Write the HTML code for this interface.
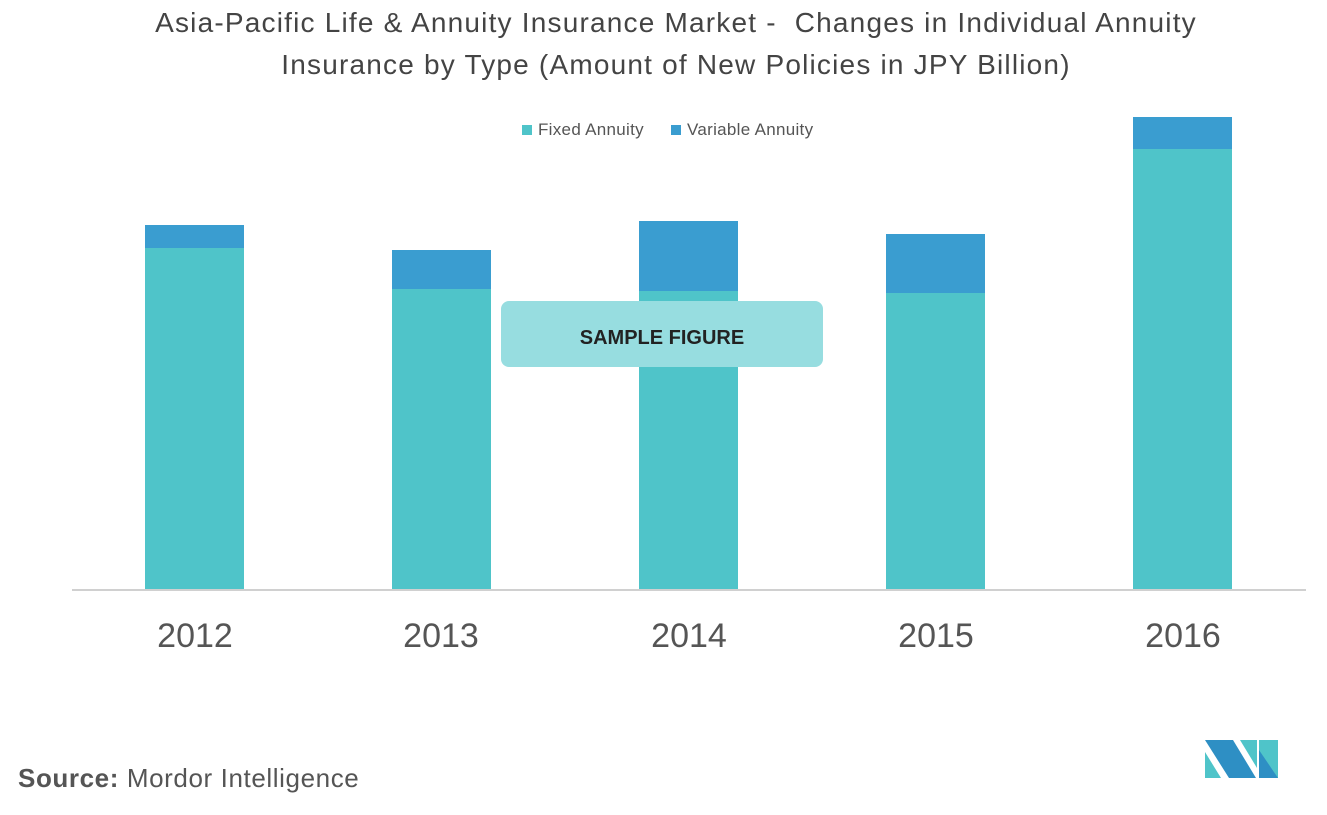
<!DOCTYPE html>
<html><head><style>
body{margin:0;width:1327px;height:815px;background:#fff;font-family:"Liberation Sans",sans-serif;position:relative;overflow:hidden}
.t{position:absolute;left:0;width:1352px;text-align:center;color:#444;font-size:28px;letter-spacing:1.2px}
.b{position:absolute;width:99px}
.f{background:#4fc4c9}.v{background:#3a9dd0}
.y{position:absolute;top:617px;width:160px;text-align:center;font-size:34px;color:#555}
</style></head><body>
<div class="t" style="top:7px">Asia-Pacific Life &amp; Annuity Insurance Market -&nbsp; Changes in Individual Annuity</div>
<div class="t" style="top:49px">Insurance by Type (Amount of New Policies in JPY Billion)</div>
<div style="position:absolute;top:120px;left:522px;font-size:17px;color:#555;letter-spacing:0.3px">
<span style="display:inline-block;width:10px;height:10px;background:#4fc4c9;margin-right:6px"></span>Fixed Annuity
<span style="display:inline-block;width:10px;height:10px;background:#3a9dd0;margin:0 6px 0 22px"></span>Variable Annuity</div>
<div class="b v" style="left:145px;top:225px;height:23px"></div><div class="b f" style="left:145px;top:248px;height:341px"></div>
<div class="b v" style="left:392px;top:250px;height:39px"></div><div class="b f" style="left:392px;top:289px;height:300px"></div>
<div class="b v" style="left:639px;top:221px;height:70px"></div><div class="b f" style="left:639px;top:291px;height:298px"></div>
<div class="b v" style="left:886px;top:234px;height:59px"></div><div class="b f" style="left:886px;top:293px;height:296px"></div>
<div class="b v" style="left:1133px;top:117px;height:32px"></div><div class="b f" style="left:1133px;top:149px;height:440px"></div>
<div style="position:absolute;left:72px;top:589px;width:1234px;height:2px;background:#d0d0d0"></div>
<div style="position:absolute;left:501px;top:301px;width:322px;height:66px;background:#97dde0;border-radius:8px;text-align:center;line-height:74px;font-weight:bold;font-size:20px;color:#222">SAMPLE FIGURE</div>
<div class="y" style="left:115px">2012</div><div class="y" style="left:361px">2013</div><div class="y" style="left:609px">2014</div><div class="y" style="left:856px">2015</div><div class="y" style="left:1103px">2016</div>
<div style="position:absolute;left:18px;top:763px;font-size:26px;color:#555;letter-spacing:0.6px"><b>Source:</b> Mordor Intelligence</div>
<svg style="position:absolute;left:1204px;top:740px" width="75" height="39" viewBox="0 0 75 39">
<polygon points="1,0 29,0 52,38 25,38" fill="#2e8fc4"/><polygon points="1,12 17,38 1,38" fill="#4fc4c9"/>
<polygon points="36,0 53,0 53,28" fill="#4fc4c9"/><rect x="55" y="0" width="19" height="38" fill="#4fc4c9"/>
<polygon points="55,10 74,38 55,38" fill="#2e8fc4"/></svg>
</body></html>
